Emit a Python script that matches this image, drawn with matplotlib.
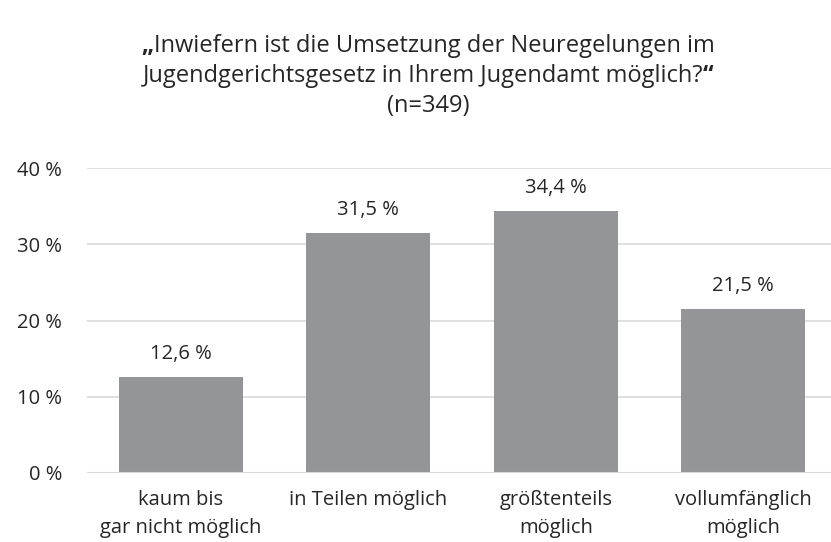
# -*- coding: utf-8 -*-
"""
Umsetzung der Neuregelungen im Jugendgerichtsgesetz -- Balkendiagramm
"""
import matplotlib
matplotlib.use("Agg")
from matplotlib import pyplot as plt

# Daten
kategorien = ["kaum bis\ngar nicht möglich", "in Teilen möglich",
              "größtenteils\nmöglich", "vollumfänglich\nmöglich"]
anteile = [12.6, 31.5, 34.4, 21.5]
y_ticks = [0, 10, 20, 30, 40]
y_labels = ["0 %", "10 %", "20 %", "30 %", "40 %"]
titel_zeile1 = "Inwiefern ist die Umsetzung der Neuregelungen im"
titel_zeile2 = "Jugendgerichtsgesetz in Ihrem Jugendamt möglich?"
titel_zeile3 = "(n=349)"

plt.rcParams['font.family'] = ['Open Sans', 'DejaVu Sans']
textfarbe = '#262626'
balkenfarbe = '#939598'
gitterfarbe = '#d9d9d9'

W, H = 831, 542
fig = plt.figure(figsize=(W / 100, H / 100), dpi=100)
ax = fig.add_axes([87 / W, 1 - 473 / H, 750 / W, 305 / H])

x = list(range(len(anteile)))
ax.bar(x, anteile, width=0.66, color=balkenfarbe, zorder=2)
ax.set_xlim(-0.5, 3.5)
ax.set_ylim(0, 40)
ax.set_yticks(y_ticks)
ax.set_yticklabels(y_labels, fontsize=14.5, color=textfarbe)
ax.set_xticks(x)
ax.set_xticklabels(kategorien, fontsize=14.5, color=textfarbe, linespacing=1.55)
ax.tick_params(axis='both', length=0)
ax.tick_params(axis='y', pad=18)
ax.tick_params(axis='x', pad=12)
ax.yaxis.grid(True, color=gitterfarbe, linewidth=1.2, zorder=0)
for s in ax.spines.values():
    s.set_visible(False)
ax.axhline(0, color=gitterfarbe, linewidth=1.5, zorder=3)

# Werte über den Balken
for xi, v in zip(x, anteile):
    ax.annotate(f"{v:.1f} %".replace(".", ","), (xi, v), xytext=(0, 13),
                textcoords='offset points', ha='center', va='baseline',
                fontsize=14.5, color=textfarbe)

# Titel mit fetten Anführungszeichen
fig.canvas.draw()
renderer = fig.canvas.get_renderer()
cx = 428 / W


def zeile(teile, y):
    texte = [fig.text(0, y, t, fontsize=17, color=textfarbe, fontweight=w,
                      va='center', ha='left') for t, w in teile]
    breiten = [t.get_window_extent(renderer).width / W for t in texte]
    start = cx - sum(breiten) / 2
    for t, b in zip(texte, breiten):
        t.set_x(start)
        start += b


zeile([("„", 'bold'), (titel_zeile1, 'normal')], 1 - 46 / H)
zeile([(titel_zeile2, 'normal'), ("“", 'bold')], 1 - 76 / H)
zeile([(titel_zeile3, 'normal')], 1 - 106 / H)

fig.savefig("out.png", dpi=100)
